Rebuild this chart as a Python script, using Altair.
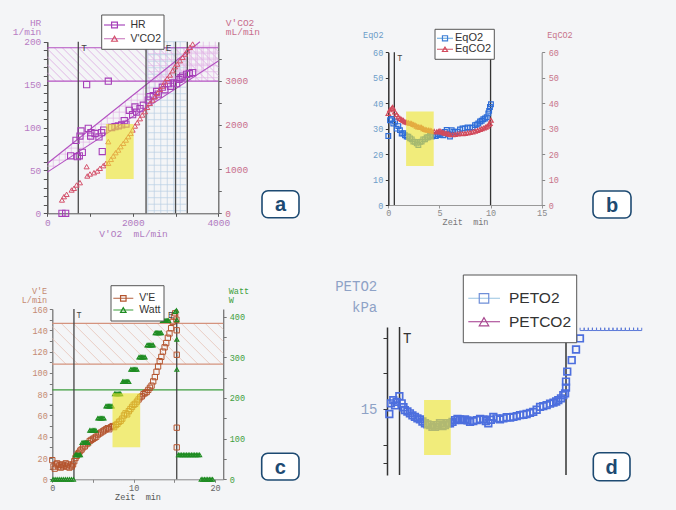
import altair as alt
import pandas as pd

# ---------------- values ----------------
# (a) HR (1/min) and V'CO2 (mL/min) against V'O2 (mL/min)
a_hr = [(343, 0), (429, 0), (546, 67), (702, 66), (749, 67), (819, 71), (671, 85), (764, 90),
        (788, 96), (959, 99), (1021, 94), (1014, 90), (1115, 93), (1209, 89), (1271, 94),
        (1318, 97), (1286, 72), (920, 150), (1427, 154), (1505, 100), (1583, 101), (1661, 102),
        (1739, 103), (1800, 108), (1840, 104), (1918, 120), (1996, 115), (2051, 124), (2090, 118),
        (2168, 122), (2246, 126), (2362, 132), (2401, 136), (2480, 137), (2557, 142), (2596, 139),
        (2690, 147), (2752, 144), (2830, 151), (2885, 148), (2947, 152), (3025, 151), (3080, 156),
        (3127, 158), (3166, 160), (3259, 162), (3322, 163), (3400, 164)]
a_vco2 = [(343, 301), (390, 377), (452, 429), (569, 527), (624, 565), (686, 640), (764, 693),
          (936, 844), (998, 889), (1092, 919), (1170, 957), (1232, 1017), (1310, 1077),
          (1372, 1130), (920, 1055), (1427, 1620), (1427, 1130), (1489, 1220), (1544, 1296),
          (1598, 1371), (1661, 1431), (1715, 1507), (1778, 1582), (1840, 1657), (1895, 1733),
          (1949, 1808), (1996, 1884), (2051, 1974), (2105, 2049), (2168, 2140), (2222, 2223),
          (2285, 2298), (2339, 2396), (2401, 2486), (2464, 2562), (2519, 2637), (2573, 2712),
          (2635, 2803), (2698, 2878), (2752, 2976), (2807, 3051), (2869, 3127), (2932, 3224),
          (2986, 3315), (3041, 3375), (3103, 3451), (3166, 3526), (3220, 3601), (3275, 3677),
          (3337, 3752), (3400, 3827)]
a_vlines = [725, 2310, 3000, 3275]
a_T, a_E = 725, 3000
a_hr_band = [154, 193]
a_diag_hi = [0, 58, 3571, 200]
a_diag_lo = [0, 48, 4000, 177.5]
a_blue_zone = [2350, 3250]
a_yellow = [1370, 2020, 40, 104]
a_hr_ticks = list(range(0, 201, 10))
a_co2_ticks = list(range(0, 3801, 500))
a_vo2_ticks = [0, 1000, 2000, 3000, 4000]

# (b) EqO2 / EqCO2 against time (min)
b_eqo2 = [(0.0, 27.1), (0.17, 33.3), (0.33, 33.8), (0.49, 32.0), (0.66, 32.8), (0.82, 30.0),
          (0.98, 31.0), (1.14, 29.4), (1.31, 28.1), (1.47, 28.2), (1.63, 27.4), (1.8, 26.9),
          (1.96, 26.8), (2.13, 26.2), (2.29, 25.8), (2.45, 24.9), (2.61, 24.8), (2.78, 24.2),
          (2.94, 23.6), (3.1, 24.8), (3.26, 24.9), (3.42, 25.8), (3.59, 25.8), (3.75, 26.5),
          (3.91, 26.6), (4.08, 27.1), (4.24, 26.9), (4.4, 27.5), (4.65, 27.1), (4.89, 27.8),
          (5.05, 27.5), (5.22, 28.1), (5.38, 27.4), (5.54, 28.7), (5.71, 29.5), (5.87, 27.8),
          (6.03, 26.9), (6.2, 29.4), (6.36, 28.8), (6.52, 28.7), (6.77, 28.8), (7.01, 29.7),
          (7.26, 30.1), (7.5, 30.1), (7.75, 30.5), (7.99, 30.3), (8.24, 30.5), (8.48, 31.4),
          (8.64, 31.6), (8.8, 32.0), (8.97, 32.8), (9.13, 33.1), (9.29, 33.7), (9.45, 34.0),
          (9.62, 34.5), (9.78, 36.0), (9.86, 37.0), (9.94, 38.5), (10.04, 39.6)]
b_eqco2 = [(0.0, 36.0), (0.16, 37.4), (0.33, 37.9), (0.43, 38.4), (0.65, 36.6), (0.82, 35.5),
           (0.98, 34.6), (1.14, 34.0), (1.31, 33.6), (1.47, 33.2), (1.63, 32.7), (1.8, 32.5),
           (1.96, 32.3), (2.13, 32.1), (2.29, 32.0), (2.45, 31.6), (2.61, 31.4), (2.78, 31.0),
           (2.93, 30.7), (3.1, 30.6), (3.26, 30.5), (3.42, 30.0), (3.59, 29.7), (3.75, 29.5),
           (3.91, 29.4), (4.08, 29.3), (4.24, 29.1), (4.48, 28.9), (4.73, 28.7), (4.89, 28.9),
           (5.05, 29.1), (5.22, 28.7), (5.38, 28.4), (5.54, 28.2), (5.71, 28.1), (5.87, 27.9),
           (6.03, 27.7), (6.28, 27.6), (6.52, 27.7), (6.77, 27.9), (7.01, 28.1), (7.26, 28.0),
           (7.5, 28.1), (7.75, 28.3), (7.99, 28.5), (8.24, 28.7), (8.48, 29.0), (8.72, 29.3),
           (8.96, 29.7), (9.15, 30.0), (9.35, 30.3), (9.52, 30.6), (9.68, 31.0), (9.84, 31.5),
           (9.94, 32.0), (10.04, 33.3)]
b_T, b_end = 0.59, 10
b_yellow = [1.74, 4.44, 15.3, 36.7]
b_ticks = [0, 10, 20, 30, 40, 50, 60]
b_time_ticks = [0, 5, 10, 15]

# (c) V'E (L/min) and Watt against time (min)
c_ve = [(0.0, 18), (0.15, 12), (0.3, 10), (0.45, 14), (0.6, 15), (0.75, 12), (0.9, 13.5),
        (1.05, 11), (1.2, 14), (1.35, 12), (1.5, 13), (1.65, 15), (1.8, 12), (1.95, 14),
        (2.1, 11), (2.25, 13), (2.4, 12), (2.55, 14), (2.7, 17), (2.85, 20), (3.0, 22),
        (3.15, 24), (3.3, 25), (3.45, 27), (3.6, 28), (3.8, 30), (4.0, 31), (4.2, 33), (4.4, 34),
        (4.6, 36), (4.8, 37), (5.0, 38), (5.2, 39), (5.4, 40), (5.6, 42), (5.8, 43), (6.0, 44),
        (6.2, 45), (6.4, 46), (6.6, 47), (6.8, 48), (7.0, 47), (7.2, 49), (7.4, 50), (7.6, 49),
        (7.8, 51), (8.0, 52), (8.2, 54), (8.4, 55), (8.6, 57), (8.8, 60), (9.0, 62), (9.2, 61),
        (9.4, 64), (9.6, 66), (9.8, 68), (10.0, 70), (10.2, 71), (10.4, 73), (10.6, 75),
        (10.8, 77), (11.0, 78), (11.2, 80), (11.4, 81), (11.6, 82), (11.8, 84), (12.0, 86),
        (12.2, 88), (12.4, 92), (12.6, 96), (12.8, 101), (13.0, 106), (13.2, 111), (13.4, 115),
        (13.6, 120), (13.8, 124), (14.0, 128), (14.2, 133), (14.4, 137), (14.6, 142),
        (14.8, 148), (14.95, 153), (15.1, 156), (15.25, 150), (15.29, 140), (15.29, 117),
        (15.29, 48.5), (15.29, 30)]
c_watt = [(0.1, 0), (0.35, 0), (0.6, 0), (0.85, 0), (1.1, 0), (1.35, 0), (1.6, 0), (1.85, 0),
          (2.1, 0), (2.35, 0), (2.6, 0),
          (2.85, 60), (3.0, 60), (3.15, 60), (3.3, 60), (3.45, 60),
          (3.65, 90), (3.8, 90), (3.95, 90), (4.1, 90), (4.25, 90), (4.4, 90),
          (4.6, 120), (4.75, 120), (4.9, 120), (5.05, 120), (5.2, 120), (5.35, 120),
          (5.6, 150), (5.75, 150), (5.9, 150), (6.05, 150), (6.2, 150), (6.35, 150),
          (6.6, 180), (6.75, 180), (6.9, 180), (7.05, 180), (7.2, 180), (7.35, 180),
          (7.65, 210), (7.8, 210), (7.95, 210), (8.1, 210), (8.25, 210), (8.4, 210),
          (8.65, 240), (8.8, 240), (8.95, 240), (9.1, 240), (9.25, 240), (9.4, 240),
          (9.65, 270), (9.8, 270), (9.95, 270), (10.1, 270), (10.25, 270), (10.4, 270),
          (10.65, 300), (10.8, 300), (10.95, 300), (11.1, 300), (11.25, 300), (11.4, 300),
          (11.65, 330), (11.8, 330), (11.95, 330), (12.1, 330), (12.25, 330), (12.4, 330),
          (12.65, 360), (12.8, 360), (12.95, 360), (13.1, 360), (13.25, 360), (13.4, 360),
          (13.55, 390), (13.7, 390), (13.85, 390), (14.0, 390), (14.15, 390), (14.3, 390),
          (15.1, 412), (15.25, 415), (15.3, 392), (15.3, 344), (15.3, 270),
          (15.5, 60), (15.7, 60), (15.9, 60), (16.1, 60), (16.3, 60), (16.5, 60), (16.7, 60),
          (16.9, 60), (17.1, 60), (17.3, 60), (17.5, 60), (17.7, 60), (17.9, 60), (18.1, 60),
          (18.3, 0), (18.5, 0), (18.7, 0), (18.9, 0), (19.1, 0), (19.3, 0), (19.5, 0), (19.7, 0)]
c_T, c_E = 2.66, 15.29
c_ve_band = [108.3, 146.5]
c_watt_line = 220
c_yellow = [7.4, 10.8, 30, 80.8]
c_ve_ticks = list(range(0, 161, 10))
c_w_ticks = list(range(0, 401, 50))
c_time_ticks = [0, 5, 10, 15, 20]

# (d) PETO2 (kPa) against time (min)
d_peto2 = [(0.13, 14.86), (0.22, 15.16), (0.35, 15.25), (0.45, 15.1), (0.54, 15.2), (0.69, 15.36),
           (0.82, 15.16), (0.92, 15.05), (1.0, 14.97), (1.14, 14.93), (1.28, 14.88), (1.42, 14.82),
           (1.56, 14.78), (1.7, 14.74), (1.84, 14.71), (1.98, 14.65), (2.12, 14.6), (2.26, 14.57),
           (2.4, 14.55), (2.54, 14.5), (2.68, 14.5), (2.82, 14.55), (2.96, 14.6), (3.1, 14.52),
           (3.24, 14.55), (3.38, 14.6), (3.52, 14.6), (3.66, 14.64), (3.8, 14.69), (3.94, 14.72),
           (4.08, 14.71), (4.22, 14.69), (4.36, 14.71), (4.5, 14.68), (4.64, 14.64), (4.82, 14.66),
           (5.01, 14.69), (5.2, 14.72), (5.38, 14.71), (5.52, 14.66), (5.66, 14.6), (5.8, 14.7),
           (5.94, 14.78), (6.12, 14.74), (6.31, 14.71), (6.5, 14.74), (6.69, 14.77), (6.88, 14.76),
           (7.06, 14.78), (7.25, 14.8), (7.43, 14.83), (7.62, 14.84), (7.8, 14.86), (7.99, 14.89),
           (8.17, 14.92), (8.36, 14.98), (8.55, 15.06), (8.73, 15.08), (8.92, 15.11), (9.11, 15.15),
           (9.3, 15.18), (9.45, 15.21), (9.57, 15.25), (9.72, 15.3), (9.85, 15.39), (9.95, 15.44),
           (10.0, 15.6), (10.0, 15.77), (10.07, 16.05), (10.32, 16.37), (10.56, 16.67),
           (10.78, 16.98)]
d_clipped_t = [10.9, 11.13, 11.36, 11.59, 11.82, 12.05, 12.28, 12.51, 12.74, 12.97, 13.2,
               13.43, 13.66, 13.89, 14.12]
d_clipped_v = 17.24
d_T, d_end = 0.7, 10
d_yellow = [2.07, 3.56, 13.71, 15.25]
d_ticks = [13.5, 14, 15, 16, 17]

# ---------------- layout and style ----------------
MONO = "Liberation Mono"
SANS = "Liberation Sans"
BG = "#f4f5f7"
TAG_C = "#1d4a72"
YEL = "#efe62e"
CW, CH = 676, 510

A_XD, A_XR = [0, 4000], [47.3, 218.3]
A_HRD, A_CO2D, A_YR = [0, 200], [0, 3880], [213.3, 41.7]
B_XD, B_XR = [0, 15], [388.3, 541.7]
B_YD, B_YR = [0, 60], [205, 52.3]
C_XD, C_XR = [0, 21], [52.3, 223.2]
C_VED, C_WD, C_YR = [0, 160], [0, 418.6], [479.3, 309]
D_XD, D_XR = [0, 10], [387, 566]
D_YD, D_YR = [13.15, 17.3], [475, 327]


def S(dom, rng):
    return alt.Scale(domain=dom, range=rng, nice=False, zero=False)


def fwd(v, d, r):
    return r[0] + (v - d[0]) / (d[1] - d[0]) * (r[1] - r[0])


def inv(p, d, r):
    return d[0] + (p - r[0]) / (r[1] - r[0]) * (d[1] - d[0])


sa_x, sa_hr, sa_co2 = S(A_XD, A_XR), S(A_HRD, A_YR), S(A_CO2D, A_YR)
sb_x, sb_y = S(B_XD, B_XR), S(B_YD, B_YR)
sc_x, sc_ve, sc_w = S(C_XD, C_XR), S(C_VED, C_YR), S(C_WD, C_YR)
sd_x, sd_y = S(D_XD, D_XR), S(D_YD, D_YR)

ONE = pd.DataFrame({"k": [0]})


def pts(pairs, xs, ys, shape, color, size, sw=1.0, xaxis=None, yaxis=None):
    df = pd.DataFrame(pairs, columns=["x", "y"])
    return alt.Chart(df).mark_point(shape=shape, filled=False, color=color, size=size,
                                    strokeWidth=sw, opacity=1).encode(
        x=alt.X("x:Q", scale=xs, axis=xaxis),
        y=alt.Y("y:Q", scale=ys, axis=yaxis))


def segs(rows, xs, ys, color, width):
    df = pd.DataFrame(rows, columns=["x", "y", "x2", "y2"])
    return alt.Chart(df).mark_rule(color=color, strokeWidth=width).encode(
        x=alt.X("x:Q", scale=xs, axis=None), y=alt.Y("y:Q", scale=ys, axis=None),
        x2=alt.X2("x2"), y2=alt.Y2("y2"))


def zone(b, xs, ys, color, opacity):
    df = pd.DataFrame([b], columns=["x", "x2", "y", "y2"])
    return alt.Chart(df).mark_rect(color=color, opacity=opacity).encode(
        x=alt.X("x:Q", scale=xs, axis=None), x2=alt.X2("x2"),
        y=alt.Y("y:Q", scale=ys, axis=None), y2=alt.Y2("y2"))


def note(xv, yv, txt, xs, ys, dx, dy, align, size, color="#444"):
    df = pd.DataFrame({"x": [xv], "y": [yv], "t": [txt]})
    return alt.Chart(df).mark_text(align=align, baseline="top", dx=dx, dy=dy, font=MONO,
                                   fontSize=size, color=color).encode(
        x=alt.X("x:Q", scale=xs, axis=None), y=alt.Y("y:Q", scale=ys, axis=None),
        text="t:N")


def diag_hatch(xd, xr, yd, yr, x0, x1, y0, y1, step):
    px = sorted([fwd(x0, xd, xr), fwd(x1, xd, xr)])
    py = sorted([fwd(y0, yd, yr), fwd(y1, yd, yr)])
    rows = []
    k = py[0] - px[1] + step / 2
    while k < py[1] - px[0]:
        xa, xb = max(px[0], py[0] - k), min(px[1], py[1] - k)
        if xb > xa:
            rows.append((inv(xa, xd, xr), inv(xa + k, yd, yr), inv(xb, xd, xr), inv(xb + k, yd, yr)))
        k += step
    return rows


def grid_hatch(xd, xr, yd, yr, x0, x1, y0, y1, step):
    rows = []
    p0, p1 = sorted([fwd(x0, xd, xr), fwd(x1, xd, xr)])
    p = p0
    while p <= p1 + 0.01:
        v = inv(p, xd, xr)
        rows.append((v, y0, v, y1))
        p += step
    p0, p1 = sorted([fwd(y0, yd, yr), fwd(y1, yd, yr)])
    p = p0
    while p <= p1 + 0.01:
        v = inv(p, yd, yr)
        rows.append((x0, v, x1, v))
        p += step
    return rows


def band_grid(lo, hi, xmax, ymax, xd, xr, yd, yr, step):
    slo = (lo[3] - lo[1]) / (lo[2] - lo[0])
    shi = (hi[3] - hi[1]) / (hi[2] - hi[0])
    rows = []
    p = fwd(0, xd, xr) + step
    while p < fwd(xmax, xd, xr):
        xv = inv(p, xd, xr)
        ya, yb = lo[1] + slo * xv, min(hi[1] + shi * xv, ymax)
        if yb > ya:
            rows.append((xv, ya, xv, yb))
        p += step
    p = fwd(lo[1], yd, yr) - step
    while p > fwd(ymax, yd, yr):
        yv = inv(p, yd, yr)
        xa, xb = max(0, (yv - hi[1]) / shi), min(xmax, (yv - lo[1]) / slo)
        if xb > xa:
            rows.append((xa, yv, xb, yv))
        p -= step
    return rows


def legend(bx, rows, fs, msize, lx0, lx1, sx, tx):
    out = [alt.Chart(ONE).mark_rect(fill="white", stroke="#555", strokeWidth=1).encode(
        x=alt.value(bx[0]), x2=alt.value(bx[2]), y=alt.value(bx[1]), y2=alt.value(bx[3]))]
    for label, y, lc, symc, shape in rows:
        out.append(alt.Chart(ONE).mark_rule(color=lc, strokeWidth=1.2).encode(
            x=alt.value(lx0), x2=alt.value(lx1), y=alt.value(y)))
        out.append(alt.Chart(ONE).mark_point(shape=shape, filled=False, color=symc, size=msize,
                                             strokeWidth=1.2, opacity=1).encode(
            x=alt.value(sx), y=alt.value(y)))
        out.append(alt.Chart(ONE).mark_text(align="left", baseline="middle", font=SANS,
                                            fontSize=fs, color="#333").encode(
            x=alt.value(tx), y=alt.value(y), text=alt.value(label)))
    return out


def tag(bx, letter):
    return [
        alt.Chart(ONE).mark_rect(fill="white", stroke=TAG_C, strokeWidth=1.6, cornerRadius=6).encode(
            x=alt.value(bx[0]), x2=alt.value(bx[2]), y=alt.value(bx[1]), y2=alt.value(bx[3])),
        alt.Chart(ONE).mark_text(font=SANS, fontSize=20, fontWeight="bold", color=TAG_C,
                                 align="center", baseline="middle").encode(
            x=alt.value((bx[0] + bx[2]) / 2), y=alt.value((bx[1] + bx[3]) / 2 + 1),
            text=alt.value(letter)),
    ]


def axis(orient, offset, values, color, fs, title, tx, ty, talign, tbase, lh=10,
         expr=None, fmt="d", tick=3, pad=2, dcolor="#555", dwidth=1.0, tcolor=None):
    kw = dict(orient=orient, offset=offset, values=values, grid=False, format=fmt,
              labelFont=MONO, labelFontSize=fs, labelColor=color, labelPadding=pad,
              labelFlush=False, labelOverlap=False, tickSize=tick, tickColor=dcolor,
              domainColor=dcolor, domainWidth=dwidth, title=title, titleX=tx, titleY=ty,
              titleAngle=0, titleAlign=talign, titleBaseline=tbase, titleFont=MONO,
              titleFontSize=fs, titleFontWeight="normal", titleColor=tcolor or color,
              titleLineHeight=lh)
    if expr:
        kw["labelExpr"] = expr
    return alt.Axis(**kw)


layers = []

# ---------------- panel a ----------------
A_L, A_R, A_B = "#b87cc4", "#c86e8c", "#b07ac0"
layers.append(segs(diag_hatch(A_XD, A_XR, A_HRD, A_YR, 0, 4000, a_hr_band[0], a_hr_band[1], 8),
                   sa_x, sa_hr, "#dba6df", 0.8))
layers.append(segs(grid_hatch(A_XD, A_XR, A_HRD, A_YR, a_blue_zone[0], 4000, a_hr_band[0], a_hr_band[1], 6),
                   sa_x, sa_hr, "#e2b4e6", 0.7))
layers.append(segs(grid_hatch(A_XD, A_XR, A_HRD, A_YR, a_blue_zone[0], a_blue_zone[1], 0, 200, 6.5),
                   sa_x, sa_hr, "#b9cfe4", 0.7))
layers.append(segs(band_grid(a_diag_lo, a_diag_hi, 4000, 200, A_XD, A_XR, A_HRD, A_YR, 6),
                   sa_x, sa_hr, "#e2b4e6", 0.7))
layers.append(segs([(0, a_hr_band[0], 4000, a_hr_band[0]), (0, a_hr_band[1], 4000, a_hr_band[1]),
                    tuple(a_diag_hi), tuple(a_diag_lo)], sa_x, sa_hr, "#b452c2", 1.1))
layers.append(segs([(v, 0, v, 200) for v in a_vlines], sa_x, sa_hr, "#4a4a4a", 1.3))
layers.append(pts(a_hr, sa_x, sa_hr, "square", "#a63fb8", 38, 1.1,
                  xaxis=axis("bottom", A_YR[0] - CH, a_vo2_ticks, A_B, 9.5,
                             "V'O2\u00a0\u00a0mL/min", 133, 20.5, "center", "middle",
                             expr="datum.value % 2000 === 0 ? datum.label : ''", pad=1.5),
                  yaxis=axis("left", -A_XR[0], a_hr_ticks, A_L, 9.5, ["HR", "1/min"], -6.5, 17,
                             "right", "top", lh=9.6,
                             expr="datum.value % 50 === 0 ? datum.label : ''", tick=4, pad=2.5,
                             dwidth=1.5)))
layers.append(pts(a_vco2, sa_x, sa_co2, "triangle-up", "#d4506a", 26, 1.0,
                  yaxis=axis("right", A_XR[1] - CW, a_co2_ticks, A_R, 9.5, ["V'CO2", "mL/min"],
                             7, 17, "left", "top", lh=9.6,
                             expr="datum.value % 1000 === 0 ? datum.label : ''", pad=3.5,
                             dcolor="#666", dwidth=1.3)))
layers.append(zone(a_yellow, sa_x, sa_hr, YEL, 0.62))
layers.append(note(a_T, 200, "T", sa_x, sa_hr, 3, 1.5, "left", 9.5))
layers.append(note(a_E, 200, "E", sa_x, sa_hr, -4, 1.5, "right", 9.5))
layers += legend((101.7, 15, 164, 49.3),
                 [("HR", 25, "#a94cbc", "#a63fb8", "square"),
                  ("V'CO2", 38.7, "#cf85c4", "#d4506a", "triangle-up")],
                 10.5, 34, 104, 125, 114.5, 130.5)
layers += tag((262, 190.7, 299, 217.7), "a")

# ---------------- panel b ----------------
B_L, B_R = "#6c9cc8", "#c8748a"
layers.append(segs([(b_T, 0, b_T, 60), (b_end, 0, b_end, 60)], sb_x, sb_y, "#333333", 1.3))
layers.append(pts(b_eqo2, sb_x, sb_y, "square", "#2f6ed8", 22, 1.2,
                  xaxis=axis("bottom", B_YR[0] - CH, b_time_ticks, "#8a8a8a", 8.5,
                             "Zeit\u00a0\u00a0min", 465, 16.7, "center", "middle", tick=3, pad=0.5,
                             dcolor="#999", tcolor="#777"),
                  yaxis=axis("left", -B_XR[0], b_ticks, B_L, 8.5, "EqO2", -5.3, 34.3,
                             "right", "middle", tick=3, pad=2.5, dcolor="#333", dwidth=1.5)))
layers.append(pts(b_eqco2, sb_x, sb_y, "triangle-up", "#d24a5c", 20, 1.2,
                  yaxis=axis("right", B_XR[1] - CW, b_ticks, B_R, 8.5, "EqCO2", 5, 34.3,
                             "left", "middle", tick=3, pad=3.5, dcolor="#888")))
layers.append(zone(b_yellow, sb_x, sb_y, YEL, 0.62))
layers.append(note(b_T, 60, "T", sb_x, sb_y, 3, 2, "left", 8.5))
layers += legend((435, 29.3, 494.3, 59.3),
                 [("EqO2", 38.3, "#7ab3e0", "#3f7fd6", "square"),
                  ("EqCO2", 49.3, "#d9707e", "#d24a5c", "triangle-up")],
                 11, 26, 437, 453, 445, 455)
layers += tag((593, 191, 631, 218), "b")

# ---------------- panel c ----------------
C_L, C_R = "#c48a72", "#3f9f3f"
layers.append(segs(diag_hatch(C_XD, C_XR, C_VED, C_YR, 0, 21, c_ve_band[0], c_ve_band[1], 12),
                   sc_x, sc_ve, "#e6c3b7", 0.8))
layers.append(segs([(0, c_ve_band[0], 21, c_ve_band[0]), (0, c_ve_band[1], 21, c_ve_band[1])],
                   sc_x, sc_ve, "#d4937e", 1.2))
layers.append(segs([(0, c_watt_line, 21, c_watt_line)], sc_x, sc_w, "#3c9c3c", 1.3))
layers.append(segs([(c_T, 0, c_T, 160), (c_E, 0, c_E, 160)], sc_x, sc_ve, "#444444", 1.3))
layers.append(pts(c_ve, sc_x, sc_ve, "square", "#b4542e", 28, 1.0,
                  xaxis=axis("bottom", C_YR[0] - CH, c_time_ticks, "#666", 8.5,
                             "Zeit\u00a0\u00a0min", 137.5, 16.7, "center", "middle",
                             expr="datum.value % 10 === 0 ? datum.label : ''", tick=3, pad=0.7,
                             dcolor="#888", tcolor="#555"),
                  yaxis=axis("left", -C_XR[0], c_ve_ticks, C_L, 8.5, ["V'E", "L/min"], -5.6, 286.5,
                             "right", "top", lh=9.4,
                             expr="datum.value % 20 === 0 ? datum.label : ''", tick=3, pad=2,
                             dcolor="#777", dwidth=1.3)))
layers.append(pts(c_watt, sc_x, sc_w, "triangle-up", "#1e8c22", 17, 1.1,
                  yaxis=axis("right", C_XR[1] - CW, c_w_ticks, C_R, 8.5, ["Watt", "W"], 5, 286.5,
                             "left", "top", lh=9.4,
                             expr="datum.value % 100 === 0 ? datum.label : ''", tick=3, pad=3,
                             dcolor="#777", dwidth=1.3)))
layers.append(zone(c_yellow, sc_x, sc_ve, YEL, 0.62))
layers.append(note(c_T, 160, "T", sc_x, sc_ve, 2.5, 2, "left", 8.5))
layers.append(note(c_E, 160, "E", sc_x, sc_ve, -3.5, 2, "right", 8.5))
layers += legend((111, 285.7, 164, 321),
                 [("V'E", 298.3, "#c07a5e", "#b4542e", "square"),
                  ("Watt", 310, "#5aae5a", "#1e8c22", "triangle-up")],
                 10.5, 30, 113.3, 133.3, 123.3, 139.3)
layers += tag((261.7, 453.3, 299, 480), "c")

# ---------------- panel d ----------------
D_L = "#8ea2c6"
layers.append(segs([(d_T, D_YD[0], d_T, D_YD[1]), (d_end, D_YD[0], d_end, D_YD[1])],
                   sd_x, sd_y, "#333333", 1.5))
layers.append(pts(d_peto2, sd_x, sd_y, "square", "#4d6fde", 44, 1.7,
                  yaxis=axis("left", -D_XR[0], d_ticks, D_L, 14, ["PETO2", "kPa"], -10.3, 279.5,
                             "right", "top", lh=21, fmt=".0f",
                             expr="datum.value === 15 ? datum.label : ''", tick=4, pad=6,
                             dcolor="#333", dwidth=1.5)))
layers.append(pts([(t, d_clipped_v) for t in d_clipped_t], sd_x, sd_y,
                  "M-1,-0.7V0.7H1V-0.7", "#5a78d8", 16, 1.0))
layers.append(zone(d_yellow, sd_x, sd_y, YEL, 0.62))
layers.append(note(d_T, D_YD[1], "T", sd_x, sd_y, 3.5, 5, "left", 14, "#333"))
layers += legend((463.3, 275, 576.7, 342.7),
                 [("PETO2", 298.3, "#a9cde6", "#6f8fd8", "square"),
                  ("PETCO2", 321.7, "#b0569e", "#a8488f", "triangle-up")],
                 15.5, 90, 468.3, 500, 484, 509)
layers += tag((593.3, 452.7, 630, 480.7), "d")

chart = alt.layer(*layers).resolve_scale(
    x="independent", y="independent"
).properties(
    width=CW, height=CH, padding=0, background=BG,
    autosize=alt.AutoSizeParams(type="none"),
).configure_view(stroke=None)

chart.save("out.html", embed_options={"renderer": "svg", "actions": False})
